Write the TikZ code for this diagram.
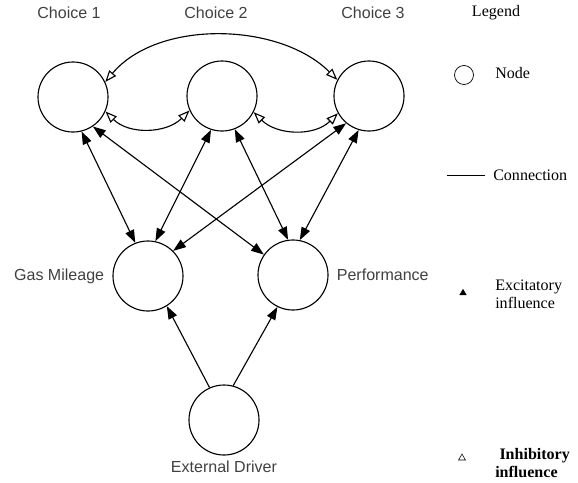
\documentclass[tikz,border=0pt]{standalone}
\usepackage{fontspec}
\setmainfont{Liberation Serif}
\setsansfont{Liberation Sans}
\usepackage{tikz}
\usetikzlibrary{arrows.meta, positioning, shapes.geometric}
\definecolor{labelgray}{RGB}{64,64,64}

\begin{document}
\begin{tikzpicture}[
    x=0.025cm, y=0.025cm,
    >={Triangle[length=3.2mm, width=2.3mm]},
    unit/.style={draw, circle, minimum size=1.75cm, inner sep=0pt, line width=0.8pt},
    lbl/.style={font=\sffamily\fontsize{11.4}{13}\selectfont, text=labelgray, inner sep=0pt},
    legtext/.style={font=\fontsize{11.4}{12.8}\selectfont, align=left, inner sep=0pt, anchor=west},
    excite/.style={<->, line width=0.8pt},
    inhibit/.style={{Triangle[open, length=2.9mm, width=2.2mm]}-{Triangle[open, length=2.9mm, width=2.2mm]}, line width=0.8pt},
]
    \useasboundingbox (0,0) rectangle (578,-482);
    % units
    \node[unit] (choice1) at (73,-97) {};
    \node[unit] (choice2) at (222,-96) {};
    \node[unit] (choice3) at (369,-96) {};
    \node[unit] (gas) at (148,-276) {};
    \node[unit] (perf) at (293,-275) {};
    \node[unit] (driver) at (224,-420) {};
    % labels
    \node[lbl] (choice1lbl) at (69,-13) {Choice 1};
    \node[lbl] (choice2lbl) at (216,-13) {Choice 2};
    \node[lbl] (choice3lbl) at (373,-13) {Choice 3};
    \node[lbl, left=0.2cm of gas] (gaslbl) {Gas Mileage};
    \node[lbl, right=0.2cm of perf] (perflbl) {Performance};
    \node[lbl, below=0.12cm of driver] (driverlbl) {External Driver};
    % excitatory links
    \draw[excite] (choice1.-76) -- (gas.111);
    \draw[excite] (choice1.-56) -- (perf.145);
    \draw[excite] (choice2.-108) -- (gas.78);
    \draw[excite] (choice2.-69) -- (perf.98);
    \draw[excite] (choice3.-130) -- (gas.45);
    \draw[excite] (choice3.-107) -- (perf.79);
    \draw[->, line width=0.8pt] (driver.114) -- (gas.-58);
    \draw[->, line width=0.8pt] (driver.75) -- (perf.-116);
    % inhibitory links
    \draw[inhibit] (choice1.25) to[out=50, in=135, looseness=0.9] (choice3.153);
    \draw[inhibit] (choice1.-24) to[out=-45, in=-135] (choice2.-156);
    \draw[inhibit] (choice2.-27) to[out=-45, in=-135] (choice3.-151);
    % legend
    \node[legtext, anchor=center] (legend) at (496,-13) {Legend};
    \node[draw, circle, minimum size=0.475cm, inner sep=0pt, line width=0.5pt] (legnode) at (464,-75) {};
    \node[legtext] (legnodetxt) at (495,-73) {Node};
    \coordinate (connA) at (447,-175);
    \coordinate (connB) at (485,-175);
    \draw[line width=0.5pt] (connA) -- (connB);
    \node[legtext] (legconntxt) at (493,-175) {Connection};
    \node[draw, fill, regular polygon, regular polygon sides=3, minimum size=0.18cm, inner sep=0pt] (legexc) at (463,-293) {};
    \node[legtext] (legexctxt) at (495,-294) {Excitatory\\influence};
    \node[draw, regular polygon, regular polygon sides=3, minimum size=0.2cm, inner sep=0pt, line width=0.4pt] (leginh) at (462,-458) {};
    \node[legtext, font=\bfseries\fontsize{11.4}{12.8}\selectfont] (leginhtxt) at (495,-463) {\hspace{3pt}Inhibitory\\influence};
\end{tikzpicture}
\end{document}
